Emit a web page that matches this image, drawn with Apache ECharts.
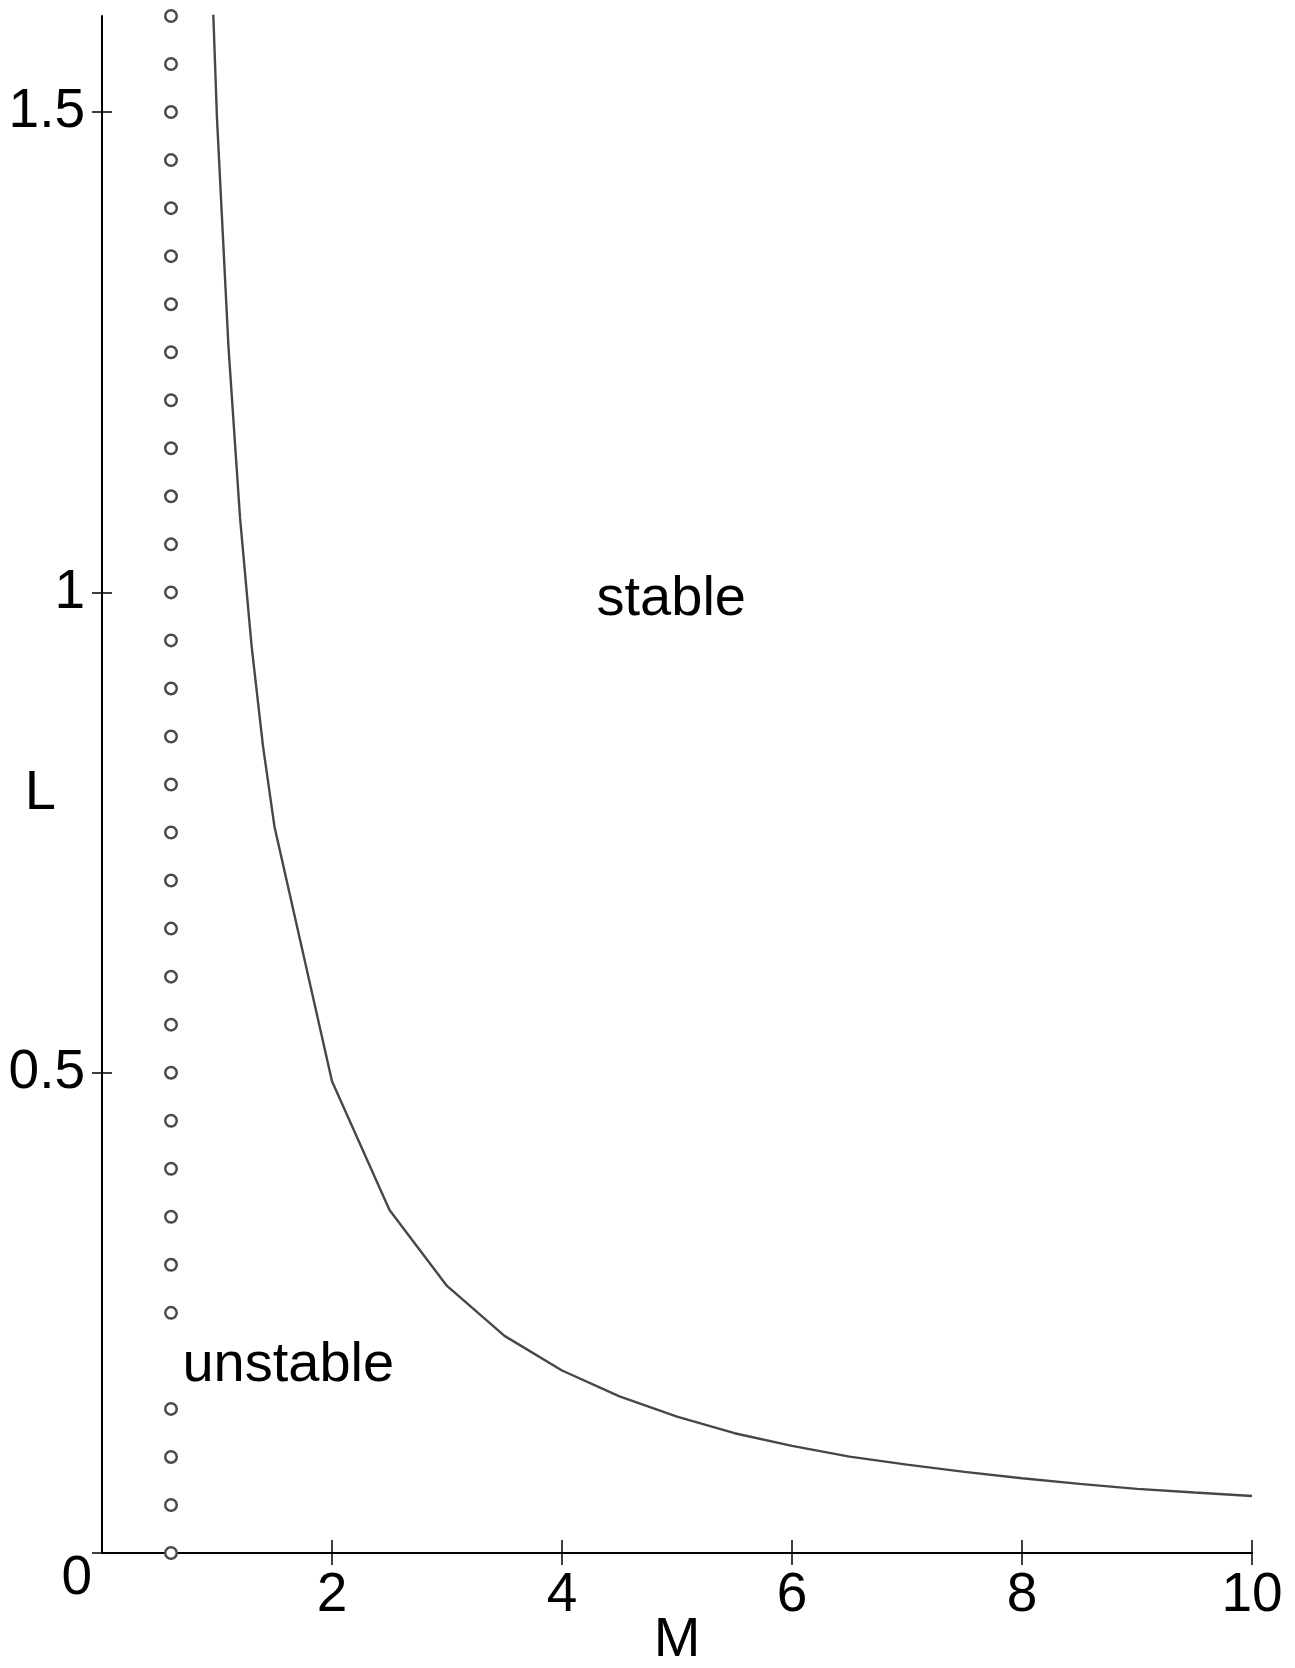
<!DOCTYPE html>
<html>
<head>
<meta charset="utf-8">
<script src="https://cdn.jsdelivr.net/npm/echarts@6/dist/echarts.min.js"></script>
<style>
html,body{margin:0;padding:0;background:#fff;}
#chart{width:1295px;height:1668px;}
</style>
</head>
<body>
<div id="chart"></div>
<script>
// Boundary curve L(M)
const curveM = [0.9, 1.0, 1.1, 1.2, 1.3, 1.4, 1.5, 2.0, 2.5, 3.0, 3.5, 4.0, 4.5, 5.0, 5.5, 6.0, 6.5, 7.0, 7.5, 8.0, 8.5, 9.0, 9.5, 10.0];
const curveL = [1.83, 1.493, 1.255, 1.078, 0.945, 0.84, 0.756, 0.491, 0.357, 0.278, 0.226, 0.190, 0.163, 0.142, 0.1247, 0.1115, 0.1003, 0.092, 0.0845, 0.0778, 0.072, 0.0668, 0.063, 0.0594];

// Dotted (circle) boundary at M = 0.6
const circleM = 0.6;
const circleL = [0, 0.05, 0.1, 0.15, 0.25, 0.3, 0.35, 0.4, 0.45, 0.5, 0.55, 0.6, 0.65, 0.7, 0.75, 0.8, 0.85, 0.9, 0.95, 1.0, 1.05, 1.1, 1.15, 1.2, 1.25, 1.3, 1.35, 1.4, 1.45, 1.5, 1.55, 1.6];

// Region annotations
const annoText = ['stable', 'unstable'];
const annoM = [4.95, 1.62];
const annoL = [0.992, 0.195];

// Axis ticks
const xTicks = [2, 4, 6, 8, 10];
const yTicks = [0, 0.5, 1, 1.5];

const FONT = "'Liberation Sans', Arial, sans-serif";
const TICKFS = 55;

const chart = echarts.init(document.getElementById('chart'), null, {renderer: 'canvas'});

const G = {left: 102, right: 43, top: 16, bottom: 115};
const gridRect = Object.assign({containLabel: false, outerBoundsMode: 'none'}, G);

const option = {
  animation: false,
  backgroundColor: '#ffffff',
  grid: [Object.assign({}, gridRect), Object.assign({}, gridRect)],
  xAxis: [{
    gridIndex: 0,
    type: 'value', min: 0, max: 10, interval: 2,
    name: 'M', nameLocation: 'middle', nameGap: 60, nameMoveOverlap: false,
    nameTextStyle: {fontFamily: FONT, fontSize: 56, color: '#000'},
    axisLine: {show: true, onZero: false, lineStyle: {color: '#000', width: 2}},
    axisTick: {show: true, inside: false, length: 12, customValues: xTicks, lineStyle: {color: '#000', width: 1.5}},
    axisLabel: {show: true, customValues: xTicks, margin: 15, fontFamily: FONT, fontSize: TICKFS, color: '#000'},
    splitLine: {show: false}
  }, {
    gridIndex: 1,
    type: 'value', min: 0, max: 10, interval: 2, position: 'bottom',
    axisLine: {show: false, onZero: false},
    axisTick: {show: true, inside: true, length: 13, customValues: xTicks, lineStyle: {color: '#000', width: 1.5}},
    axisLabel: {show: false},
    splitLine: {show: false}
  }],
  yAxis: [{
    gridIndex: 0,
    type: 'value', min: 0, max: 1.6, interval: 0.5,
    name: '{a|L}', nameLocation: 'middle', nameRotate: 0, nameGap: 46, nameMoveOverlap: false,
    nameTextStyle: {
      fontFamily: FONT, fontSize: 56, color: '#000',
      rich: {a: {fontFamily: FONT, fontSize: 56, color: '#000', padding: [18, 0, 0, 0]}}
    },
    axisLine: {show: true, onZero: false, lineStyle: {color: '#000', width: 2}},
    axisTick: {show: true, inside: false, length: 10, customValues: yTicks, lineStyle: {color: '#000', width: 1.5}},
    axisLabel: {
      show: true, customValues: yTicks, margin: 10,
      fontFamily: FONT, fontSize: TICKFS, color: '#000',
      formatter: function (v) {
        return v === 0 ? '{z|0}' : '{n|' + v + '}';
      },
      rich: {
        z: {fontFamily: FONT, fontSize: TICKFS, color: '#000', padding: [52, 0, 0, 0]},
        n: {fontFamily: FONT, fontSize: TICKFS, color: '#000', padding: [0, 7, 0, 0]}
      }
    },
    splitLine: {show: false}
  }, {
    gridIndex: 1,
    type: 'value', min: 0, max: 1.6, interval: 0.5, position: 'left',
    axisLine: {show: false, onZero: false},
    axisTick: {show: true, inside: true, length: 10, customValues: yTicks, lineStyle: {color: '#000', width: 1.5}},
    axisLabel: {show: false},
    splitLine: {show: false}
  }],
  series: [{
    type: 'line',
    xAxisIndex: 0, yAxisIndex: 0,
    data: curveM.map((m, i) => [m, curveL[i]]),
    showSymbol: false, symbol: 'none',
    clip: true,
    lineStyle: {color: '#474747', width: 2.4},
    z: 3
  }, {
    type: 'scatter',
    xAxisIndex: 0, yAxisIndex: 0,
    data: circleL.map(l => [circleM, l]),
    symbol: 'circle', symbolSize: 11.5,
    clip: false,
    itemStyle: {color: '#ffffff', borderColor: '#4a4a4a', borderWidth: 2.5, opacity: 1},
    z: 4
  }, {
    type: 'scatter',
    xAxisIndex: 0, yAxisIndex: 0,
    data: annoText.map((t, i) => ({name: t, value: [annoM[i], annoL[i]]})),
    symbolSize: 0,
    itemStyle: {opacity: 1},
    label: {
      show: true, position: 'inside', formatter: '{b}',
      fontFamily: FONT, fontSize: 56, color: '#000', opacity: 1
    },
    z: 5
  }]
};

chart.setOption(option);
</script>
</body>
</html>
